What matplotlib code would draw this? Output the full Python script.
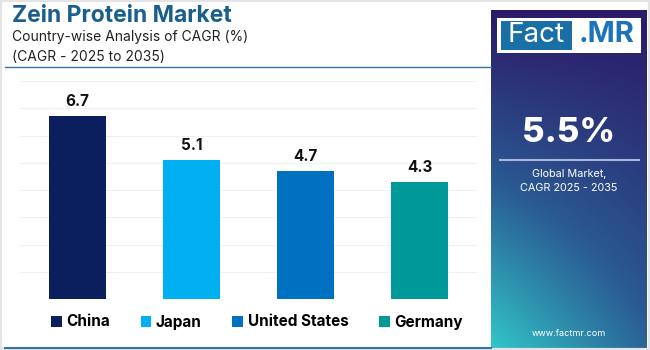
"""Zein protein market: country-wise CAGR bar chart with side panel."""

import numpy as np
import matplotlib.pyplot as plt
from matplotlib.colors import LinearSegmentedColormap
from matplotlib.patches import Patch, Rectangle
from matplotlib.lines import Line2D

countries = ["China", "Japan", "United States", "Germany"]
cagr = [6.7, 5.1, 4.7, 4.3]
bar_colors = ["#0b1f5e", "#00b0f0", "#0070c0", "#009999"]
global_cagr = "5.5%"

W, H = 650, 350
FONT = "Inter"


def px(x, y, w, h):
    """Pixel box (top-left origin) to figure fraction rect."""
    return [x / W, 1 - (y + h) / H, w / W, h / H]


fig = plt.figure(figsize=(W / 100, H / 100), dpi=100)
fig.patch.set_facecolor("white")

# light gray frame
fig.add_artist(Rectangle((0, 0), 1, 1, transform=fig.transFigure, fill=False,
                         edgecolor="#e4e4e4", linewidth=3))

# titles
fig.text(12 / W, 1 - 16 / H, "Zein Protein Market", fontsize=16.5, fontweight="bold",
         color="#1a5e8e", family=FONT, va="center", ha="left")
fig.text(12 / W, 1 - 37 / H, "Country-wise Analysis of CAGR (%)", fontsize=10,
         color="#222222", family=FONT, va="center", ha="left")
fig.text(12 / W, 1 - 57 / H, "(CAGR - 2025 to 2035)", fontsize=10,
         color="#222222", family=FONT, va="center", ha="left")
fig.add_artist(Line2D([5 / W, 491 / W], [1 - 67 / H] * 2, transform=fig.transFigure,
                      color="#2e74a8", linewidth=1))
fig.add_artist(Line2D([5 / W, 491 / W], [1 - 347.5 / H] * 2, transform=fig.transFigure,
                      color="#2e74a8", linewidth=1.5))

# bar chart
ax = fig.add_axes(px(20, 81, 457, 218))
x = np.arange(len(countries))
bars = ax.bar(x, cagr, width=0.5, color=bar_colors, zorder=3)
for b, v in zip(bars, cagr):
    ax.annotate(f"{v}", (b.get_x() + b.get_width() / 2, v), xytext=(0, 5),
                textcoords="offset points", ha="center", va="bottom",
                fontsize=11, fontweight="bold", family=FONT, color="#111111")
ax.set_xlim(-0.5, len(countries) - 0.5)
ax.set_ylim(0, 8)
ax.set_yticks(np.arange(0, 9, 1))
ax.grid(axis="y", color="#f0f0f0", linewidth=0.8, zorder=0)
ax.tick_params(left=False, bottom=False, labelleft=False, labelbottom=False)
for s in ax.spines.values():
    s.set_visible(False)

handles = [Patch(facecolor=c, label=n) for c, n in zip(bar_colors, countries)]
leg = fig.legend(handles=handles, loc="center", bbox_to_anchor=(257 / W, 1 - 322 / H),
                 ncol=4, frameon=False, handlelength=0.7, handleheight=0.7,
                 handletextpad=0.3, columnspacing=2.0,
                 prop={"family": FONT, "weight": "bold", "size": 11})

# right gradient panel
pan = fig.add_axes(px(491, 10, 156, 338))
cmap = LinearSegmentedColormap.from_list(
    "panel", [(0.0, "#2c1a68"), (0.5, "#2a5a93"), (1.0, "#32c6c8")])
u, v = np.meshgrid(np.linspace(0, 1, 100), np.linspace(0, 1, 200))
t = v * (1 - 0.45 * u)
pan.imshow(t, cmap=cmap, aspect="auto", extent=(0, 1, 0, 1), origin="upper",
           vmin=0, vmax=1)
pan.set_xlim(0, 1)
pan.set_ylim(0, 1)
pan.axis("off")

# logo
fig.add_artist(Rectangle((497 / W, 1 - 53 / H), 144 / W, 35 / H, transform=fig.transFigure,
                         facecolor="white", edgecolor="none"))
fig.add_artist(Rectangle((501 / W, 1 - 50 / H), 71 / W, 29 / H, transform=fig.transFigure,
                         facecolor="#1a70a6", edgecolor="none"))
fig.text(536.5 / W, 1 - 35 / H, "Fact", fontsize=20, color="white", family=FONT,
         ha="center", va="center")
fig.text(607 / W, 1 - 35 / H, ".MR", fontsize=21, fontweight="bold", color="#1b74b9",
         family=FONT, ha="center", va="center")

fig.text(569 / W, 1 - 133 / H, global_cagr, fontsize=25, fontweight="heavy", color="white",
         family=FONT, ha="center", va="center")
fig.add_artist(Line2D([500 / W, 639 / W], [1 - 160 / H] * 2, transform=fig.transFigure,
                      color="#aab5d8", linewidth=1.5))
fig.text(569 / W, 1 - 181 / H, "Global Market,\nCAGR 2025 - 2035", fontsize=7.8,
         color="white", family=FONT, ha="center", va="center", linespacing=1.6)
fig.text(569 / W, 1 - 334 / H, "www.factmr.com", fontsize=6.5, color="white",
         family=FONT, ha="center", va="center")

fig.savefig("out.png", dpi=100)
